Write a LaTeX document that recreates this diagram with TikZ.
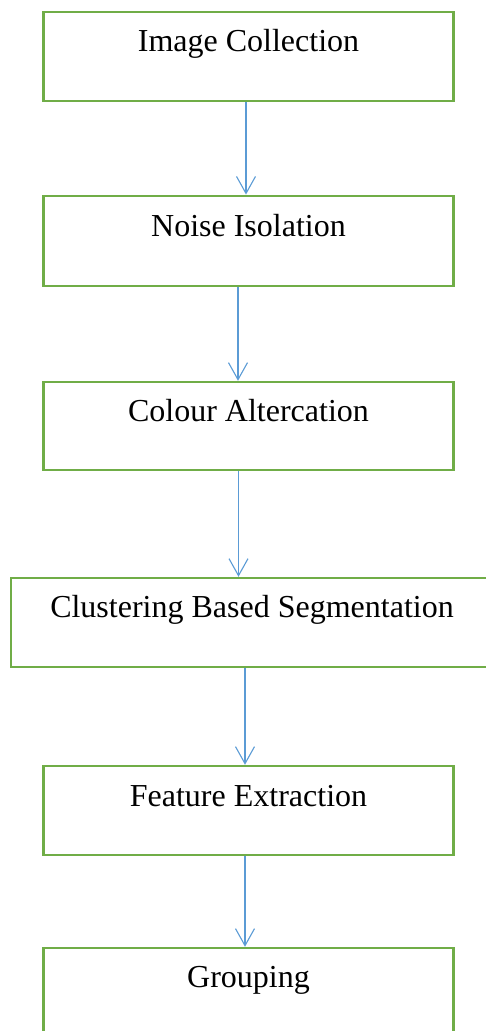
\documentclass[tikz,border=0pt]{standalone}
\usepackage{fontspec}
\setmainfont{Liberation Serif}
\usetikzlibrary{arrows.meta}
\definecolor{boxgreen}{RGB}{112,173,71}
\definecolor{arrowblue}{RGB}{91,155,213}
\begin{document}
\begin{tikzpicture}[x=1pt,y=-1pt,
  box/.style={draw=boxgreen,line width=2.5pt,fill=white,rectangle,inner sep=0pt},
  lbl/.style={anchor=base,inner sep=0pt,font=\fontsize{32}{38}\selectfont},
  conn/.style={draw=arrowblue,line width=1.1pt,-{Straight Barb[length=17pt,width=19pt,line width=1.1pt]}}]
\useasboundingbox (0,0) rectangle (486,1031);
\node[box,minimum width=410pt,minimum height=89pt] (b1) at (248.5,56.5) {};
\node[box,minimum width=410pt,minimum height=90pt] (b2) at (248.5,240.8) {};
\node[box,minimum width=410pt,minimum height=88pt] (b3) at (248.5,426) {};
\node[box,minimum width=479pt,minimum height=89pt] (b4) at (250.5,622.5) {};
\node[box,minimum width=410pt,minimum height=89pt] (b5) at (248.5,810.5) {};
\node[box,minimum width=410pt,minimum height=100pt] (b6) at (248.5,998) {};
\node[lbl] (t1) at ([yshift=-41pt]b1.north) {Image Collection};
\node[lbl] (t2) at ([yshift=-42pt]b2.north) {Noise Isolation};
\node[lbl] (t3) at ([yshift=-41pt]b3.north) {Colour Altercation};
\node[lbl] (t4) at ([yshift=-41pt,xshift=1.5pt]b4.north) {Clustering Based Segmentation};
\node[lbl] (t5) at ([yshift=-42pt]b5.north) {Feature Extraction};
\node[lbl] (t6) at ([yshift=-41pt]b6.north) {Grouping};
\draw[conn] ([xshift=-2.5pt]b1.south) -- ([xshift=-2.5pt]b2.north);
\draw[conn] ([xshift=-10.5pt]b2.south) -- ([xshift=-10.5pt]b3.north);
\draw[conn] ([xshift=-10pt]b3.south) -- ([xshift=-12pt]b4.north);
\draw[conn] ([xshift=-5.5pt]b4.south) -- ([xshift=-3.5pt]b5.north);
\draw[conn] ([xshift=-3.5pt]b5.south) -- ([xshift=-3.5pt]b6.north);
\end{tikzpicture}
\end{document}
